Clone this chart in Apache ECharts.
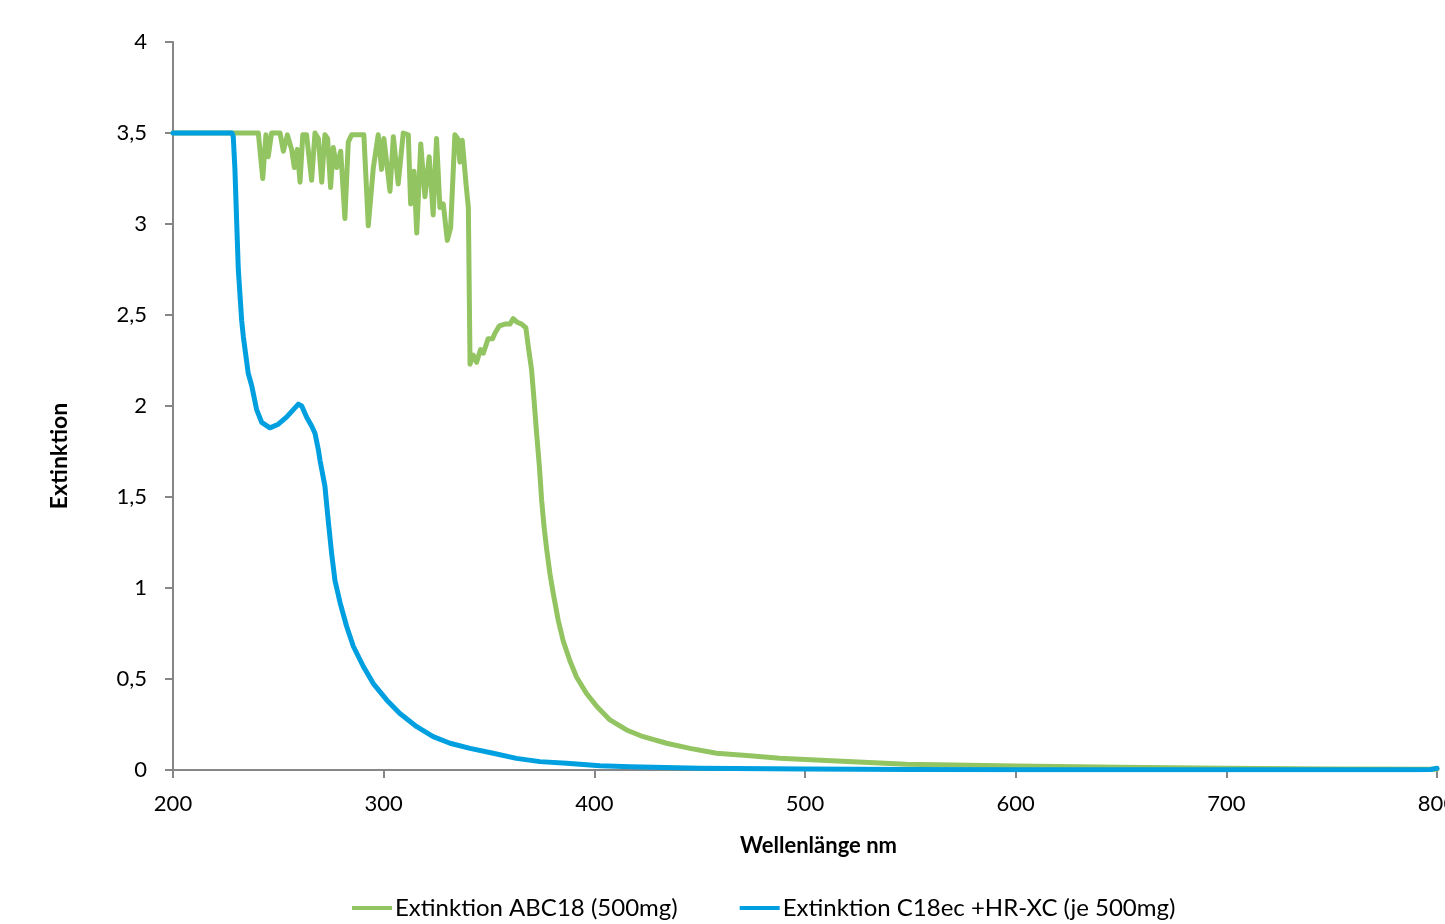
<!DOCTYPE html>
<html>
<head>
<meta charset="utf-8">
<script src="https://cdn.jsdelivr.net/npm/echarts@6/dist/echarts.min.js"></script>
<style>
html,body{margin:0;padding:0;background:#fff;}
#chart{width:1445px;height:924px;}
</style>
</head>
<body>
<div id="chart"></div>
<script>
const seriesNames = ['Extinktion ABC18 (500mg)', 'Extinktion C18ec +HR-XC (je 500mg)'];
const xTicks = [200, 300, 400, 500, 600, 700, 800];
const yTicks = [0, 0.5, 1, 1.5, 2, 2.5, 3, 3.5, 4];

const abcWavelength = [200, 240.5, 242.6, 244.1, 245.2, 246.8, 250.8, 252.4, 254.3, 256.3, 257.6, 259, 260.3, 261.6, 263.4, 265.8, 267.4, 269, 270.6, 272.1, 273.4, 274.8, 276.1, 277.7, 279.6, 281.6, 283.2, 284.8, 290.6, 292.7, 295.1, 297.4, 299, 300.1, 303, 304.6, 306.9, 309.3, 311.7, 312.8, 314.4, 315.7, 317.6, 319.6, 321.6, 323.5, 325.1, 326.7, 328.3, 330.2, 331.8, 333.8, 335.1, 336.2, 337.3, 339.1, 340.2, 341, 342.5, 344.1, 346, 347.3, 349.6, 351.7, 352.8, 354.9, 357.6, 359.9, 361.5, 363.4, 365.5, 367.5, 368.6, 370.2, 371.4, 372.6, 373.9, 375, 376.1, 377.4, 378.9, 380.5, 382.9, 385.2, 388.4, 391.6, 396.3, 401.1, 407.4, 415.3, 423.2, 434.3, 445.4, 458, 473.8, 488, 497.6, 548, 600, 649, 700, 750, 800];
const abcValues = [3.5, 3.5, 3.25, 3.49, 3.37, 3.5, 3.5, 3.40, 3.49, 3.41, 3.31, 3.41, 3.23, 3.49, 3.49, 3.24, 3.5, 3.47, 3.23, 3.49, 3.47, 3.20, 3.42, 3.31, 3.40, 3.03, 3.45, 3.49, 3.49, 2.99, 3.31, 3.49, 3.30, 3.47, 3.18, 3.48, 3.22, 3.5, 3.49, 3.11, 3.29, 2.95, 3.44, 3.15, 3.37, 3.05, 3.47, 3.09, 3.11, 2.91, 2.98, 3.49, 3.47, 3.34, 3.46, 3.22, 3.09, 2.23, 2.28, 2.24, 2.31, 2.29, 2.37, 2.37, 2.40, 2.44, 2.45, 2.45, 2.48, 2.46, 2.45, 2.43, 2.33, 2.20, 2.03, 1.85, 1.67, 1.48, 1.34, 1.21, 1.08, 0.97, 0.82, 0.71, 0.60, 0.51, 0.42, 0.35, 0.275, 0.22, 0.183, 0.147, 0.119, 0.092, 0.078, 0.064, 0.059, 0.031, 0.022, 0.015, 0.01, 0.006, 0.004];

const c18Wavelength = [200, 228, 228.6, 229.4, 230.2, 231, 232.6, 233.4, 235.7, 237.4, 239.7, 242.1, 246, 250, 254, 259.5, 261.1, 263.4, 265.8, 267.4, 269, 269.8, 272.1, 273.7, 275.3, 276.9, 279.3, 282.4, 285.6, 290.3, 295, 301.4, 307.7, 315.7, 323.5, 331.5, 341, 352, 363, 374.2, 386.8, 402.7, 416.9, 450, 500, 550, 600, 700, 790, 797, 800];
const c18Values = [3.5, 3.5, 3.48, 3.30, 3.02, 2.75, 2.47, 2.38, 2.18, 2.11, 1.98, 1.91, 1.88, 1.90, 1.94, 2.01, 2.00, 1.94, 1.89, 1.85, 1.76, 1.70, 1.56, 1.37, 1.19, 1.04, 0.92, 0.79, 0.68, 0.57, 0.476, 0.385, 0.31, 0.238, 0.183, 0.147, 0.119, 0.092, 0.064, 0.046, 0.037, 0.024, 0.018, 0.01, 0.005, 0.003, 0.002, 0.001, 0.001, 0.003, 0.01];

const FONT = 'Lato';
const GREEN = '#93c462';
const BLUE = '#00a0e0';
const pairs = (xs, ys) => xs.map((x, i) => [x, ys[i]]);

const chart = echarts.init(document.getElementById('chart'), null, {renderer: 'canvas'});
chart.setOption({
  animation: false,
  backgroundColor: '#ffffff',
  textStyle: {fontFamily: FONT},
  grid: {left: 173, right: 8, top: 42, bottom: 154, containLabel: false, outerBoundsMode: 'none'},
  legend: {
    left: 352, top: 896, padding: 0,
    icon: 'rect',
    itemWidth: 40, itemHeight: 4, itemGap: 62,
    textStyle: {fontFamily: FONT, fontSize: 24, color: '#000', padding: [0, 0, 0, -2]},
    data: seriesNames
  },
  xAxis: {
    type: 'value', min: xTicks[0], max: xTicks[xTicks.length - 1], interval: 100,
    name: 'Wellenlänge nm', nameLocation: 'middle', nameGap: 65,
    nameTextStyle: {fontFamily: FONT, fontSize: 22, fontWeight: 'bold', color: '#000', padding: [0, 0, 0, 27]},
    axisLine: {show: true, lineStyle: {color: '#868686', width: 2}},
    axisTick: {show: true, inside: false, length: 8, lineStyle: {color: '#868686', width: 2}},
    axisLabel: {fontFamily: FONT, fontSize: 22, color: '#000', margin: 23, showMaxLabel: true},
    splitLine: {show: false}
  },
  yAxis: {
    type: 'value', min: yTicks[0], max: yTicks[yTicks.length - 1], interval: 0.5,
    name: 'Extinktion', nameLocation: 'middle', nameGap: 102, nameRotate: 90,
    nameTextStyle: {fontFamily: FONT, fontSize: 23, fontWeight: 'bold', color: '#000', padding: [0, 100, 0, 0]},
    axisLine: {show: true, lineStyle: {color: '#868686', width: 2}},
    axisTick: {show: true, inside: false, length: 8, lineStyle: {color: '#868686', width: 2}},
    axisLabel: {fontFamily: FONT, fontSize: 22, color: '#000', margin: 26,
      formatter: v => String(v).replace('.', ',')},
    splitLine: {show: false}
  },
  series: [
    {
      name: seriesNames[0], type: 'line', symbol: 'none', smooth: false,
      lineStyle: {color: GREEN, width: 5, join: 'round', cap: 'round'},
      itemStyle: {color: GREEN},
      data: pairs(abcWavelength, abcValues), z: 2
    },
    {
      name: seriesNames[1], type: 'line', symbol: 'none', smooth: false,
      lineStyle: {color: BLUE, width: 5, join: 'round', cap: 'round'},
      itemStyle: {color: BLUE},
      data: pairs(c18Wavelength, c18Values), z: 3
    }
  ]
});
</script>
</body>
</html>
